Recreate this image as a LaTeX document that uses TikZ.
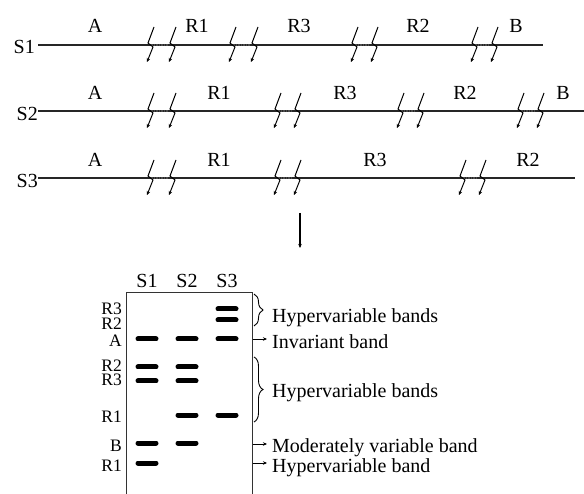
\documentclass[tikz,border=0pt]{standalone}
\usepackage{fontspec}
\setmainfont{Liberation Serif}
\usetikzlibrary{arrows.meta,decorations.pathreplacing}
\begin{document}
\begin{tikzpicture}[x=1pt,y=-1pt,
  lbl/.style={inner sep=0pt,anchor=base,font=\fontsize{20}{22}\selectfont},
  glbl/.style={inner sep=0pt,anchor=base east,font=\fontsize{17.5}{20}\selectfont},
  rlbl/.style={inner sep=0pt,anchor=base west,font=\fontsize{20}{22}\selectfont},
  slbl/.style={inner sep=0pt,anchor=base east,font=\fontsize{20}{22}\selectfont},
  chrom/.style={line width=1.1pt,black!85},
  gap/.style={line width=1.8pt,black!70,dash pattern=on 1.5pt off 1pt},
  band/.style={line width=5pt,line cap=round},
  tip/.style={-{Stealth[length=4pt,width=3.5pt]}},
  brk/.pic={\draw[line width=1pt,tip] (6,-18) -- (0,-2) -- (5,2) -- (-1,17);},
  brc/.style={decorate,decoration={brace,amplitude=9pt},line width=0.9pt}
]
\useasboundingbox (0,0) rectangle (584,494);
% chromosome lines
\coordinate (s1a) at (38,45);  \coordinate (s1b) at (543,45);
\coordinate (s2a) at (38,111); \coordinate (s2b) at (584,111);
\coordinate (s3a) at (38,178); \coordinate (s3b) at (575,178);
\draw[chrom] (s1a) -- (s1b);
\draw[chrom] (s2a) -- (s2b);
\draw[chrom] (s3a) -- (s3b);
\node[slbl] (S1) at (35,54) {S1};
\node[slbl] (S2) at (38,121) {S2};
\node[slbl] (S3) at (38,188) {S3};
% row labels
\node[lbl] (a1) at (95,33) {A};
\node[lbl] (r11) at (197,33) {R1};
\node[lbl] (r31) at (299,33) {R3};
\node[lbl] (r21) at (418,33) {R2};
\node[lbl] (b1) at (516,33) {B};
\node[lbl] (a2) at (95,100) {A};
\node[lbl] (r12) at (219,100) {R1};
\node[lbl] (r32) at (345,100) {R3};
\node[lbl] (r22) at (465,100) {R2};
\node[lbl] (b2) at (563,100) {B};
\node[lbl] (a3) at (95,167) {A};
\node[lbl] (r13) at (219,167) {R1};
\node[lbl] (r33) at (375,167) {R3};
\node[lbl] (r23) at (528,167) {R2};
% breaks
\foreach \xa/\xb/\yy in {148/170/45,230/252/45,352/372/45,472/492/45,
  148/170/111,275/295/111,398/418/111,518/538/111,
  148/170/178,275/295/178,460/480/178}{
  \draw[gap] (\xa+3,\yy) -- (\xb-2,\yy);
  \pic at (\xa,\yy) {brk};
  \pic at (\xb,\yy) {brk};
}
% down arrow
\coordinate (d1) at (300,213); \coordinate (d2) at (300,248);
\draw[line width=1.1pt,tip] (d1) -- (d2);
% gel
\coordinate (g1) at (126,494); \coordinate (g2) at (126,293);
\coordinate (g3) at (252,293); \coordinate (g4) at (252,494);
\draw[line width=1pt,black!80] (g1) -- (g2) -- (g3) -- (g4);
\node[lbl] (L1) at (147,288) {S1};
\node[lbl] (L2) at (187,288) {S2};
\node[lbl] (L3) at (227,288) {S3};
% bands
\foreach \c/\yy in {227/309,227/320,147/339,187/339,227/339,147/367,187/367,
  147/381,187/381,187/415,227/415,147/443,187/443,147/463}{
  \draw[band] (\c-9,\yy) -- (\c+9,\yy);
}
% left gel labels
\node[glbl] (gR3a) at (122,315) {R3};
\node[glbl] (gR2a) at (122,329.5) {R2};
\node[glbl] (gA) at (122,347) {A};
\node[glbl] (gR2b) at (122,371.5) {R2};
\node[glbl] (gR3b) at (122,386) {R3};
\node[glbl] (gR1a) at (122,422) {R1};
\node[glbl] (gB) at (122,451) {B};
\node[glbl] (gR1b) at (122,471) {R1};
% right annotations
\draw[brc] (254,294) -- (254,326);
\node[rlbl] (t1) at (272,323) {Hypervariable bands};
\coordinate (i1) at (253,339); \coordinate (i2) at (267,339);
\draw[line width=0.8pt,tip] (i1) -- (i2);
\node[rlbl] (t2) at (272,349) {Invariant band};
\draw[brc] (254,357) -- (254,422);
\node[rlbl] (t3) at (272,398) {Hypervariable bands};
\coordinate (m1) at (253,444); \coordinate (m2) at (267,444);
\draw[line width=0.8pt,tip] (m1) -- (m2);
\node[rlbl] (t4) at (272,453) {Moderately variable band};
\coordinate (h1) at (253,463); \coordinate (h2) at (267,463);
\draw[line width=0.8pt,tip] (h1) -- (h2);
\node[rlbl] (t5) at (272,472) {Hypervariable band};
\end{tikzpicture}
\end{document}
